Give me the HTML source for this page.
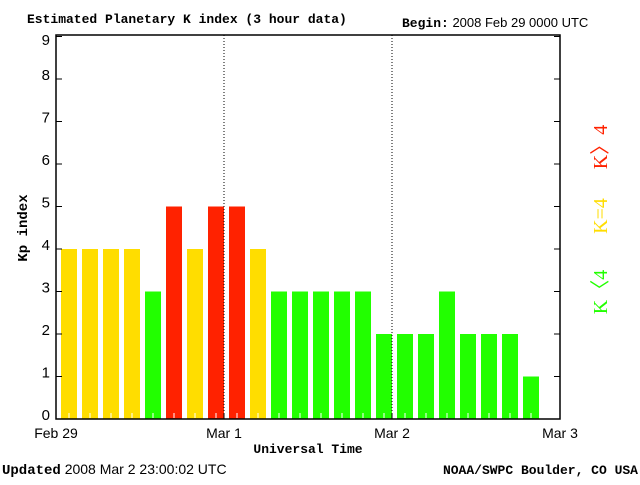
<!DOCTYPE html>
<html><head><meta charset="utf-8"><style>
body{margin:0;background:#fff;}
svg text{font-family:"Liberation Sans",sans-serif;}
.mono{font-family:"Liberation Mono",monospace;font-weight:bold;}
.serif{font-family:"Liberation Serif",serif;}
</style></head><body>
<svg id="c" width="640" height="480" xmlns="http://www.w3.org/2000/svg">
<rect width="640" height="480" fill="#fff"/>
<text class="mono" x="27" y="23" font-size="13">Estimated Planetary K index (3 hour data)</text>
<text x="402" y="27" font-size="13"><tspan class="mono">Begin:</tspan> <tspan font-size="13">2008 Feb 29 0000 UTC</tspan></text>
<g id="bars"></g>
<g id="axes"></g>
<text class="mono" x="0" y="0" font-size="14" transform="translate(27,228) rotate(-90)" text-anchor="middle">Kp index</text>
<text class="mono" x="308" y="453" font-size="13" text-anchor="middle">Universal Time</text>
<text x="2" y="474" font-size="14"><tspan class="mono">Updated</tspan> 2008 Mar  2 23:00:02 UTC</text>
<text class="mono" x="638" y="474" font-size="13" text-anchor="end">NOAA/SWPC Boulder, CO USA</text>
<text class="serif" font-size="20" fill="#ff2200" text-anchor="middle" transform="translate(607,147) rotate(-90)">K〉4</text>
<text class="serif" font-size="20" fill="#ffdd00" text-anchor="middle" transform="translate(607,216) rotate(-90)">K=4</text>
<text class="serif" font-size="20" fill="#22ff00" text-anchor="middle" transform="translate(607,292) rotate(-90)">K〈4</text>
</svg>
<script>
const kpValues=[4,4,4,4,3,5,4,5,5,4,3,3,3,3,3,2,2,2,3,2,2,2,1];
const yTicks=[0,1,2,3,4,5,6,7,8,9];
const dayLabels=["Feb 29","Mar 1","Mar 2","Mar 3"];
const NS="http://www.w3.org/2000/svg";
const L=56,R=560,T=35,B=419,slots=24,unit=42.5;
const x=i=>L+i*(R-L)/slots;
const y=v=>B-v*unit;
function mk(tag,attrs,parent){const e=document.createElementNS(NS,tag);for(const k in attrs)e.setAttribute(k,attrs[k]);parent.appendChild(e);return e;}
const bars=document.getElementById('bars'),axes=document.getElementById('axes');
kpValues.forEach((v,i)=>{
 const col=v>4?'#ff2200':(v==4?'#ffdd00':'#22ff00');
 const r=mk('rect',{x:x(i)+5,y:y(v),width:16,height:B-y(v),fill:col},bars);
 
 
 const t=mk('line',{x1:x(i)+13,x2:x(i)+13,y1:B-1,y2:B-6,stroke:'#fff','stroke-width':1},bars);
 
 
});
[1,2].forEach(d=>{
 const l=mk('line',{x1:x(d*8),x2:x(d*8),y1:T,y2:B,stroke:'#000','stroke-dasharray':'1,2'},axes);
 
 
});
const fr=mk('rect',{x:L,y:T,width:R-L,height:B-T,fill:'none',stroke:'#000','stroke-width':1.5},axes);


yTicks.forEach(v=>{
 mk('line',{x1:L,x2:L+6,y1:y(v),y2:y(v),stroke:'#000'},axes);
 mk('line',{x1:R,x2:R-6,y1:y(v),y2:y(v),stroke:'#000'},axes);
 const t=mk('text',{x:L-6,y:Math.max(y(v)+1,T+10),'font-size':15,'text-anchor':'end'},axes);
 t.textContent=v;
 
 
});
dayLabels.forEach((s,d)=>{
 mk('line',{x1:x(d*8),x2:x(d*8),y1:B,y2:B-6,stroke:'#000'},axes);
 const t=mk('text',{x:x(d*8),y:B+19,'font-size':14,'text-anchor':'middle'},axes);
 t.textContent=s;
 
 
});
</script>
</body></html>
